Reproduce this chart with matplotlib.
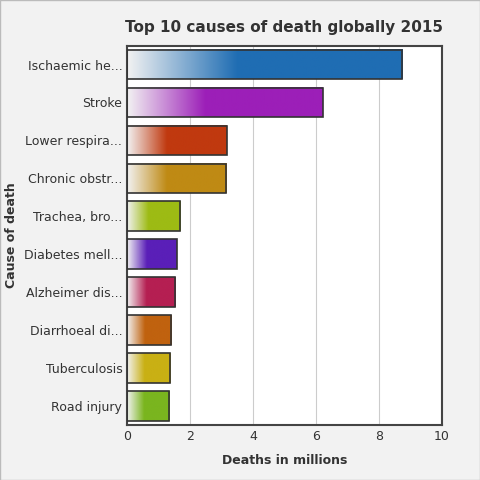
import numpy as np
import matplotlib
matplotlib.use("Agg")
import matplotlib.pyplot as plt
from matplotlib.colors import to_rgb

causes = ["Ischaemic he...", "Stroke", "Lower respira...", "Chronic obstr...", "Trachea, bro...",
          "Diabetes mell...", "Alzheimer dis...", "Diarrhoeal di...", "Tuberculosis", "Road injury"]
deaths = [8.75, 6.22, 3.18, 3.15, 1.69, 1.59, 1.53, 1.40, 1.37, 1.34]
colors = ["#1f6db3", "#9c1fb8", "#c0390f", "#bf8a14", "#9dbb14",
          "#5a1fb8", "#b51f52", "#c0620f", "#c9b014", "#7ab51f"]

fig = plt.figure(figsize=(4.8, 4.8), dpi=100, facecolor="#f2f2f2")
ax = fig.add_axes([0.265, 0.115, 0.655, 0.79])
ax.set_facecolor("white")
n = len(causes)
h = 0.78
for i, (v, c) in enumerate(zip(deaths, colors)):
    rgb = np.array(to_rgb(c))
    t = np.linspace(0, 1, 256)
    frac = np.clip(t / 0.4, 0, 1)[:, None]
    img = (1 - frac) * np.array([0.95, 0.95, 0.95]) + frac * rgb
    ax.imshow(img[None, :, :], extent=[0, v, i + h / 2, i - h / 2], aspect="auto", zorder=2)
    ax.add_patch(plt.Rectangle((0, i - h / 2), v, h, fill=False, edgecolor="#333333", lw=1.2, zorder=3))
ax.set_xlim(0, 10)
ax.set_ylim(n - 0.5, -0.5)
ax.set_yticks(range(n))
ax.set_yticklabels(causes, fontsize=9, color="#333333")
ax.set_xticks([0, 2, 4, 6, 8, 10])
ax.tick_params(axis="x", labelsize=9, colors="#333333", length=0)
ax.tick_params(axis="y", length=0)
ax.grid(axis="x", color="#cccccc", lw=0.8, zorder=0)
ax.set_axisbelow(True)
for s in ax.spines.values():
    s.set_color("#444444")
    s.set_linewidth(1.5)
ax.set_xlabel("Deaths in millions", fontsize=9, fontweight="bold", color="#333333", labelpad=8)
ax.set_ylabel("Cause of death", fontsize=9, fontweight="bold", color="#333333")
ax.set_title("Top 10 causes of death globally 2015", fontsize=11, fontweight="bold", color="#333333", pad=10)
fig.add_artist(plt.Rectangle((0, 0), 1, 1, transform=fig.transFigure, fill=False, edgecolor="#bbbbbb", lw=1))
fig.savefig("out.png", dpi=100, facecolor=fig.get_facecolor())
